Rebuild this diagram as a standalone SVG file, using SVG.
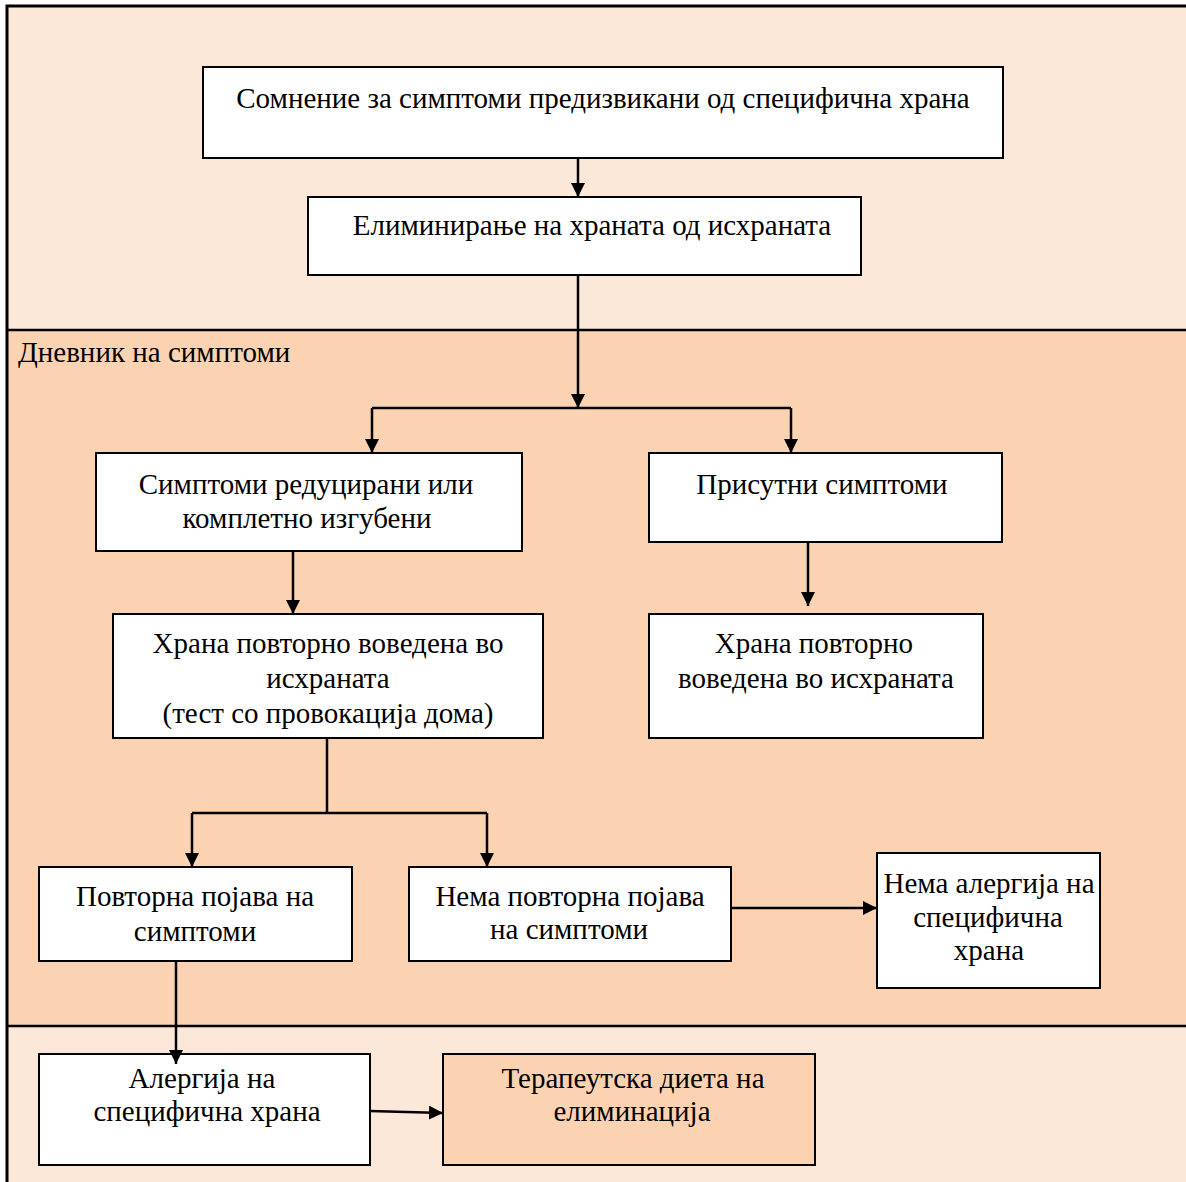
<svg xmlns="http://www.w3.org/2000/svg" width="1186" height="1182" viewBox="0 0 1186 1182">
<style>
.bx{fill:#fff;stroke:#000;stroke-width:2}
.tx{font-family:"Liberation Serif","Times New Roman","DejaVu Serif",serif;font-size:29px;fill:#000;text-anchor:middle}
.ln{fill:none;stroke:#000;stroke-width:2.5}
</style>
<defs>
<marker id="ah" markerWidth="14" markerHeight="14" refX="14" refY="7" orient="auto" markerUnits="userSpaceOnUse">
<path d="M0,0 L14,7 L0,14 Z" fill="#000"/>
</marker>
</defs>
<g id="bands">
<rect x="7" y="6" width="1185" height="324" fill="#FCE8D9"/>
<rect x="7" y="330" width="1185" height="696" fill="#FBD3B3"/>
<rect x="7" y="1026" width="1185" height="160" fill="#FCE8D9"/>
<path d="M7,1186 V6 H1190" fill="none" stroke="#000" stroke-width="3"/>
<line x1="7" y1="330" x2="1190" y2="330" stroke="#000" stroke-width="2.5"/>
<line x1="7" y1="1026" x2="1190" y2="1026" stroke="#000" stroke-width="2.5"/>
<text x="18" y="362" class="tx" style="text-anchor:start">Дневник на симптоми</text>
</g>
<g id="n1"><rect class="bx" x="203" y="67" width="800" height="91"/><text class="tx" x="603" y="108">Сомнение за симптоми предизвикани од специфична храна</text></g>
<g id="n2"><rect class="bx" x="308" y="197" width="553" height="78"/><text class="tx" x="592" y="235">Елиминирање на храната од исхраната</text></g>
<g id="n3"><rect class="bx" x="96" y="453" width="426" height="98"/><text class="tx" x="306" y="494">Симптоми редуцирани или</text><text class="tx" x="307" y="528">комплетно изгубени</text></g>
<g id="n4"><rect class="bx" x="649" y="453" width="353" height="89"/><text class="tx" x="822" y="494">Присутни симптоми</text></g>
<g id="n5"><rect class="bx" x="113" y="614" width="430" height="124"/><text class="tx" x="328" y="653">Храна повторно воведена во</text><text class="tx" x="328" y="688">исхраната</text><text class="tx" x="328" y="723">(тест со провокација дома)</text></g>
<g id="n6"><rect class="bx" x="649" y="614" width="334" height="124"/><text class="tx" x="814" y="653">Храна повторно</text><text class="tx" x="816" y="688">воведена во исхраната</text></g>
<g id="n7"><rect class="bx" x="39" y="867" width="313" height="94"/><text class="tx" x="195" y="906">Повторна појава на</text><text class="tx" x="195" y="941">симптоми</text></g>
<g id="n8"><rect class="bx" x="409" y="867" width="322" height="94"/><text class="tx" x="570" y="906">Нема повторна појава</text><text class="tx" x="569" y="939">на симптоми</text></g>
<g id="n9"><rect class="bx" x="877" y="853" width="223" height="135"/><text class="tx" x="989" y="893">Нема алергија на</text><text class="tx" x="988" y="927">специфична</text><text class="tx" x="989" y="960">храна</text></g>
<g id="n10"><rect class="bx" x="39" y="1054" width="331" height="111"/><text class="tx" x="202" y="1088">Алергија на</text><text class="tx" x="207" y="1121">специфична храна</text></g>
<g id="n11"><rect class="bx" x="443" y="1054" width="372" height="111" style="fill:#FBD3B3"/><text class="tx" x="633" y="1088">Терапеутска диета на</text><text class="tx" x="632" y="1121">елиминација</text></g>
<g id="connectors">
<line class="ln" x1="578" y1="158" x2="578" y2="197" marker-end="url(#ah)"/>
<line class="ln" x1="578" y1="275" x2="578" y2="408" marker-end="url(#ah)"/>
<line class="ln" x1="372" y1="408" x2="791" y2="408"/>
<line class="ln" x1="372" y1="408" x2="372" y2="453" marker-end="url(#ah)"/>
<line class="ln" x1="791" y1="408" x2="791" y2="453" marker-end="url(#ah)"/>
<line class="ln" x1="293" y1="551" x2="293" y2="614" marker-end="url(#ah)"/>
<line class="ln" x1="808" y1="542" x2="808" y2="606" marker-end="url(#ah)"/>
<line class="ln" x1="327" y1="738" x2="327" y2="813"/>
<line class="ln" x1="192" y1="813" x2="487" y2="813"/>
<line class="ln" x1="192" y1="813" x2="192" y2="867" marker-end="url(#ah)"/>
<line class="ln" x1="487" y1="813" x2="487" y2="867" marker-end="url(#ah)"/>
<line class="ln" x1="731" y1="908" x2="877" y2="908" marker-end="url(#ah)"/>
<line class="ln" x1="176" y1="961" x2="176" y2="1064" marker-end="url(#ah)"/>
<line class="ln" x1="370" y1="1111" x2="443" y2="1113" marker-end="url(#ah)"/>
</g>
</svg>
